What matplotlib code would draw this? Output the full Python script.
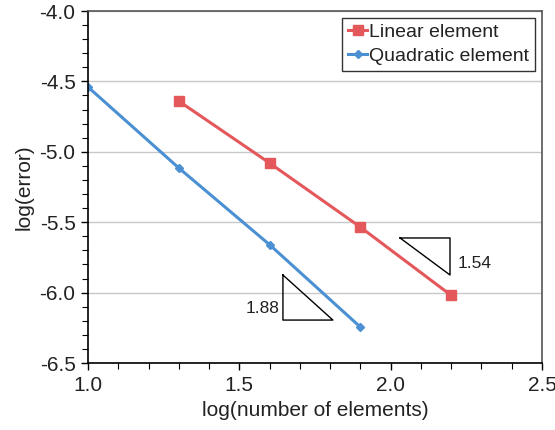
import matplotlib
matplotlib.use('Agg')
import matplotlib.pyplot as plt
from matplotlib.ticker import MultipleLocator

plt.rcParams['font.family'] = ['Liberation Sans', 'DejaVu Sans']

# data
x_lin = [1.3, 1.6, 1.9, 2.2]
y_lin = [-4.64, -5.08, -5.535, -6.02]
x_quad = [1.0, 1.3, 1.6, 1.9]
y_quad = [-4.54, -5.115, -5.66, -6.245]

# slope triangles (annotation)
tri_lin_x = [2.031, 2.196, 2.196, 2.031]
tri_lin_y = [-5.612, -5.612, -5.875, -5.612]
tri_quad_x = [1.644, 1.644, 1.809, 1.644]
tri_quad_y = [-5.875, -6.195, -6.195, -5.875]

red = '#E4575A'
blue = '#4A90D2'

fig = plt.figure(figsize=(5.55, 4.3), dpi=100)
ax = fig.add_axes([0.1586, 0.1558, 0.8180, 0.8186])

ax.plot(x_lin, y_lin, color=red, lw=2.2, marker='s', ms=7, label='Linear element')
ax.plot(x_quad, y_quad, color=blue, lw=2.2, marker='D', ms=4, label='Quadratic element')

ax.plot(tri_lin_x, tri_lin_y, color='black', lw=1)
ax.plot(tri_quad_x, tri_quad_y, color='black', lw=1)
ax.text(2.22, -5.79, '1.54', fontsize=12.5, ha='left', va='center', color='#222222')
ax.text(1.632, -6.11, '1.88', fontsize=12.5, ha='right', va='center', color='#222222')

ax.set_xlim(1.0, 2.5)
ax.set_ylim(-6.5, -4.0)
ax.xaxis.set_major_locator(MultipleLocator(0.5))
ax.xaxis.set_minor_locator(MultipleLocator(0.1))
ax.yaxis.set_major_locator(MultipleLocator(0.5))
ax.yaxis.set_minor_locator(MultipleLocator(0.1))
ax.xaxis.set_major_formatter(plt.FormatStrFormatter('%.1f'))
ax.yaxis.set_major_formatter(plt.FormatStrFormatter('%.1f'))
ax.tick_params(which='major', direction='out', length=5, width=1, labelsize=15,
               labelcolor='#222222', pad=4)
ax.tick_params(which='minor', direction='out', length=4, width=0.8)
ax.tick_params(axis='x', which='both', top=False)
ax.tick_params(axis='y', which='both', right=False)
ax.grid(axis='y', which='major', color='#c8c8c8', lw=1)
ax.set_axisbelow(True)
for s in ['left', 'bottom']:
    ax.spines[s].set_color('black')
    ax.spines[s].set_linewidth(1.2)
for s in ['top', 'right']:
    ax.spines[s].set_color('#555555')
    ax.spines[s].set_linewidth(1.2)

ax.set_xlabel('log(number of elements)', fontsize=15, color='#222222', labelpad=5)
ax.set_ylabel('log(error)', fontsize=15, color='#222222', labelpad=4)

leg = ax.legend(loc='upper right', fontsize=14, handlelength=1.0, handletextpad=0.1,
                frameon=True, fancybox=False, borderpad=0.3, labelspacing=0.3,
                borderaxespad=0.35)
leg.get_frame().set_edgecolor('black')
leg.get_frame().set_linewidth(1)
for t in leg.get_texts():
    t.set_color('#222222')

fig.savefig('out.png', dpi=100)
